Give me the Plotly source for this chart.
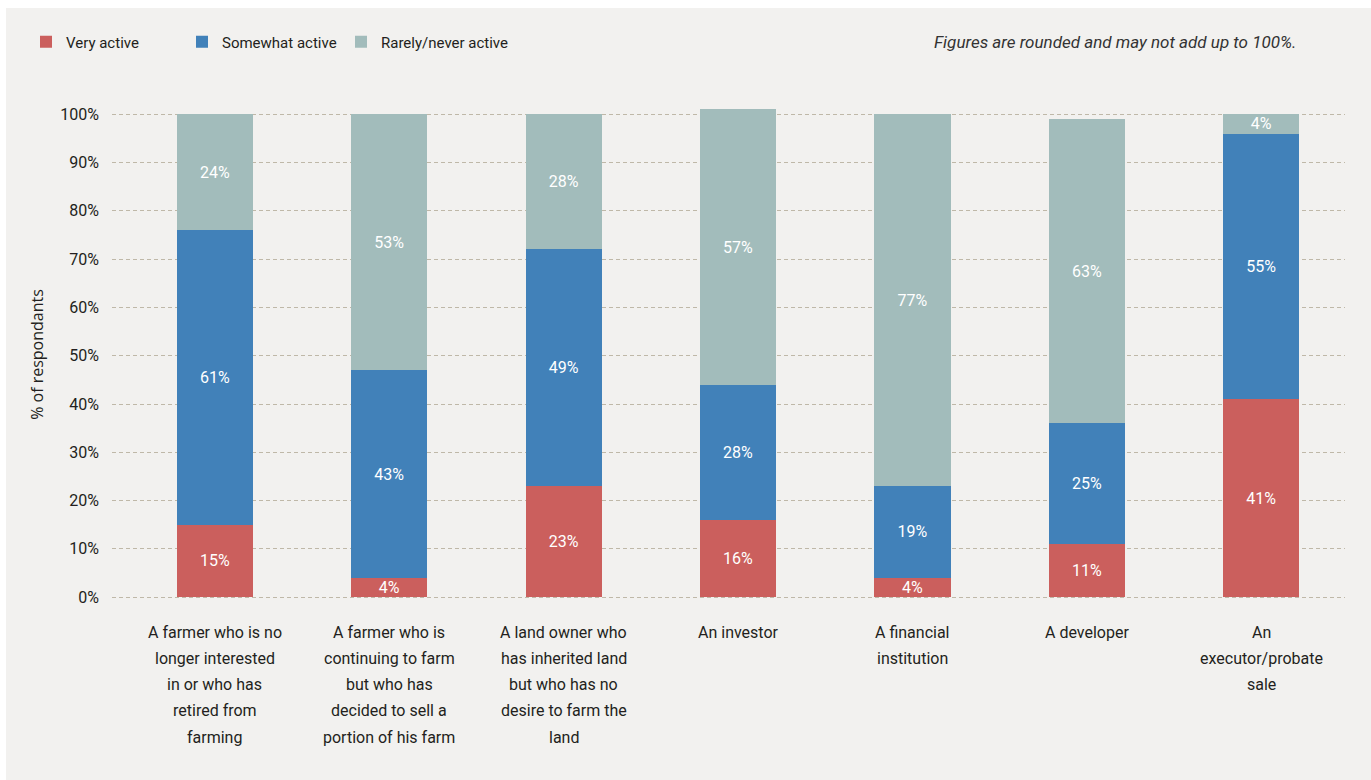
import plotly.graph_objects as go

# Survey categories (line breaks as they wrap under each bar)
categories = [
    "A farmer who is no<br>longer interested<br>in or who has<br>retired from<br>farming",
    "A farmer who is<br>continuing to farm<br>but who has<br>decided to sell a<br>portion of his farm",
    "A land owner who<br>has inherited land<br>but who has no<br>desire to farm the<br>land",
    "An investor",
    "A financial<br>institution",
    "A developer",
    "An<br>executor/probate<br>sale",
]
very_active = [15, 4, 23, 16, 4, 11, 41]
somewhat_active = [61, 43, 49, 28, 19, 25, 55]
rarely_active = [24, 53, 28, 57, 77, 63, 4]
y_ticks = [0, 10, 20, 30, 40, 50, 60, 70, 80, 90, 100]

series = [
    ("Very active", very_active, "#CB5F5D"),
    ("Somewhat active", somewhat_active, "#4181B9"),
    ("Rarely/never active", rarely_active, "#A2BCBB"),
]

FONT = "Roboto, 'Liberation Sans Narrow', 'DejaVu Sans Condensed', sans-serif"
TEXT_DARK = "#231F20"
BG = "#F2F1EF"

W, H = 1371, 780
ML, MR, MT, MB = 112, 26, 107, 178
PW, PH = W - ML - MR, H - MT - MB


def px_x(p):
    return (p - ML) / PW


def px_y(p):
    return (H - MB - p) / PH


x_idx = list(range(len(categories)))
legend_ids = ["legend", "legend2", "legend3"]
legend_left = [26, 182, 341]

fig = go.Figure()
for (name, vals, color), lid in zip(series, legend_ids):
    fig.add_trace(go.Bar(
        x=x_idx,
        y=vals,
        name=name,
        legend=lid,
        marker=dict(color=color, line=dict(width=0)),
        width=0.436,
        text=[f"{v}%" for v in vals],
        textposition="inside",
        insidetextanchor="middle",
        textfont=dict(family=FONT, size=16, color="white"),
        constraintext="none",
        hoverinfo="skip",
    ))

# Category labels beneath the bars, one line at a time
annotations = []
for i, cat in enumerate(categories):
    for j, line in enumerate(cat.split("<br>")):
        annotations.append(dict(
            x=i, xref="x",
            y=px_y(632 + 26.3 * j), yref="paper",
            text=line, showarrow=False,
            xanchor="center", yanchor="middle",
            font=dict(family=FONT, size=16, color=TEXT_DARK),
        ))

annotations.append(dict(
    x=px_x(1298), xref="paper", y=px_y(42), yref="paper",
    text="<i>Figures are rounded and may not add up to 100%.</i>",
    showarrow=False, xanchor="right", yanchor="middle",
    font=dict(family=FONT, size=17, color="#333333"),
))

# White edges around the panel
shapes = [
    dict(type="rect", xref="paper", yref="paper", layer="below",
         x0=px_x(0), x1=px_x(W + 2), y0=px_y(8), y1=px_y(-2),
         fillcolor="white", line=dict(width=0)),
    dict(type="rect", xref="paper", yref="paper", layer="below",
         x0=px_x(-2), x1=px_x(6), y0=px_y(H + 2), y1=px_y(-2),
         fillcolor="white", line=dict(width=0)),
]

legend_style = dict(
    orientation="h",
    xanchor="left",
    y=px_y(42), yanchor="middle",
    bgcolor="rgba(0,0,0,0)",
    font=dict(family=FONT, size=15, color=TEXT_DARK),
    itemwidth=30,
)

fig.update_layout(
    width=W, height=H,
    barmode="stack",
    paper_bgcolor=BG,
    plot_bgcolor=BG,
    margin=dict(l=ML, r=MR, t=MT, b=MB, pad=0),
    font=dict(family=FONT, size=16, color=TEXT_DARK),
    showlegend=True,
    legend=dict(x=px_x(legend_left[0]), **legend_style),
    legend2=dict(x=px_x(legend_left[1]), **legend_style),
    legend3=dict(x=px_x(legend_left[2]), **legend_style),
    xaxis=dict(
        range=[-0.59, 6.48],
        tickvals=x_idx,
        showticklabels=False,
        showgrid=False,
        zeroline=False,
        showline=False,
        ticks="",
    ),
    yaxis=dict(
        range=[-1, 101.5],
        tickvals=y_ticks,
        ticktext=[f"{v}%" for v in y_ticks],
        showgrid=True,
        gridcolor="#BFB8A8",
        griddash="4px,3px",
        gridwidth=1.2,
        zeroline=False,
        showline=False,
        ticks="",
        ticklabelstandoff=12,
        tickfont=dict(family=FONT, size=16, color=TEXT_DARK),
        title=dict(
            text="% of respondants",
            font=dict(family="'Open Sans', sans-serif", size=16, color=TEXT_DARK),
            standoff=12,
        ),
    ),
    annotations=annotations,
    shapes=shapes,
)

fig.write_html("out.html")
